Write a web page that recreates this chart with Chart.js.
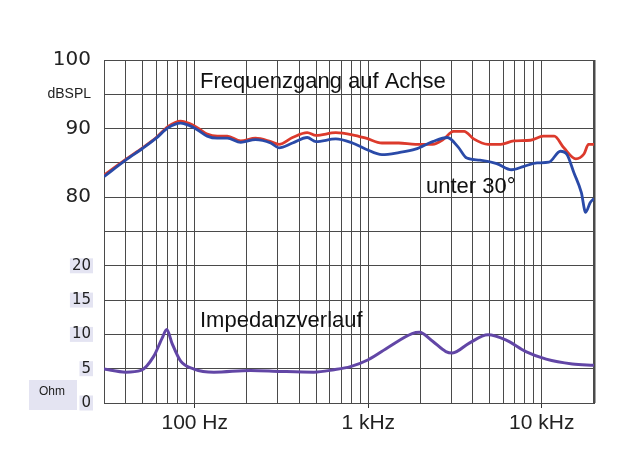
<!DOCTYPE html>
<html>
<head>
<meta charset="utf-8">
<script src="https://cdn.jsdelivr.net/npm/chart.js@4.4.1/dist/chart.umd.min.js"></script>
<style>
  html, body { margin: 0; padding: 0; background: #fff; }
  #wrap { width: 640px; height: 450px; }
</style>
</head>
<body>
<div id="wrap"><canvas id="chart" width="640" height="450"></canvas></div>
<script>
// Frequenzgang auf Achse (rot)
const axisFreq = [30, 40, 50, 60, 70, 83, 92, 104, 118, 135, 154, 184, 224, 274, 306, 366, 445, 500, 650, 810, 970, 1200, 1500, 1870, 2350, 2700, 3100, 3570, 4050, 4900, 5800, 6900, 8600, 10200, 11800, 13400, 15700, 17500, 18600, 20000];
const axisDb = [83.2, 85.5, 87.2, 88.7, 90.3, 91.1, 90.8, 90.1, 89.2, 88.9, 88.9, 88.2, 88.6, 88.1, 87.7, 88.7, 89.4, 89.0, 89.4, 89.1, 88.6, 87.9, 87.9, 87.7, 87.7, 88.4, 89.6, 89.6, 88.5, 87.7, 87.7, 88.2, 88.3, 88.9, 88.9, 87.2, 85.6, 86.3, 87.7, 87.7];

// unter 30 Grad (blau)
const offFreq = [30, 40, 50, 60, 70, 83, 92, 104, 118, 135, 154, 184, 224, 274, 306, 366, 445, 500, 650, 810, 970, 1200, 1500, 1870, 2350, 2860, 3300, 3700, 4400, 5500, 6700, 7900, 9400, 11000, 12800, 14000, 15300, 16900, 17900, 19000, 20000];
const offDb = [83.0, 85.4, 87.1, 88.6, 90.1, 90.8, 90.5, 89.8, 88.9, 88.6, 88.6, 88.0, 88.4, 87.9, 87.2, 87.9, 88.7, 88.1, 88.5, 87.9, 87.0, 86.2, 86.5, 87.0, 88.1, 88.7, 87.3, 85.7, 85.4, 84.9, 84.0, 84.5, 85.0, 85.1, 86.7, 86.2, 83.6, 80.7, 77.8, 79.2, 79.8];

// Impedanzverlauf (Ohm)
const impFreq = [30, 40, 49, 58, 65, 69, 74, 83, 99, 129, 210, 313, 487, 635, 790, 1000, 1320, 1790, 1970, 2350, 2800, 3060, 3800, 4900, 6200, 8100, 10600, 15000, 20000];
const impOhm = [4.95, 4.5, 4.75, 6.8, 9.5, 10.7, 8.7, 6.1, 4.95, 4.5, 4.75, 4.6, 4.5, 4.85, 5.3, 6.3, 8.2, 10.1, 10.3, 9.0, 7.5, 7.3, 8.7, 9.95, 9.2, 7.5, 6.4, 5.7, 5.5];

// dB werden um 50 verschoben auf die gemeinsame Achse gelegt
const dbOffset = 50;
const xGrid = [30, 40, 50, 60, 70, 80, 90, 100, 200, 300, 400, 500, 600, 700, 800, 900, 1000, 2000, 3000, 4000, 5000, 6000, 7000, 8000, 9000, 10000, 20000];
const xLabels = { 100: "100 Hz", 1000: "1 kHz", 10000: "10 kHz" };
const yLabels = { 50: "100", 45: "dBSPL", 40: "90", 30: "80", 20: "20", 15: "15", 10: "10", 5: "5", 0: "0" };

const toPoints = (xs, ys, off) => xs.map((f, i) => ({ x: f, y: ys[i] - off }));

const notes = {
  id: "notes",
  afterDraw(chart) {
    const c = chart.ctx;
    c.save();
    c.fillStyle = "#111";
    c.font = '22px "Liberation Sans", Arial, sans-serif';
    c.textBaseline = "alphabetic";
    c.fillText("Frequenzgang auf Achse", 200, 88);
    c.fillText("unter 30°", 426, 193);
    c.fillText("Impedanzverlauf", 200, 327);
    // Ohm Kästchen
    c.fillStyle = "#e4e4f2";
    c.fillRect(29, 380, 48, 30);
    c.fillStyle = "#222";
    c.font = '12px "Liberation Sans", Arial, sans-serif';
    c.textAlign = "center";
    c.textBaseline = "middle";
    c.fillText("Ohm", 52, 392);
    c.restore();
  }
};

const ctx = document.getElementById("chart").getContext("2d");
new Chart(ctx, {
  type: "line",
  data: {
    datasets: [
      {
        label: "unter 30°",
        data: toPoints(offFreq, offDb, dbOffset),
        borderColor: "#2a4aa8",
        borderWidth: 2.8,
        order: 0
      },
      {
        label: "auf Achse",
        data: toPoints(axisFreq, axisDb, dbOffset),
        borderColor: "#dc3a2c",
        borderWidth: 2.8,
        order: 1
      },
      {
        label: "Impedanz",
        data: toPoints(impFreq, impOhm, 0),
        borderColor: "#6246a6",
        borderWidth: 3,
        order: 2
      }
    ]
  },
  options: {
    responsive: false,
    animation: false,
    events: [],
    layout: { padding: { top: 60, right: 46, left: 0, bottom: 0 } },
    elements: {
      point: { radius: 0 },
      line: { cubicInterpolationMode: "monotone", fill: false }
    },
    plugins: { legend: { display: false }, tooltip: { enabled: false } },
    scales: {
      x: {
        type: "logarithmic",
        min: 30,
        max: 20000,
        afterBuildTicks: (scale) => { scale.ticks = xGrid.map((v) => ({ value: v })); },
        afterFit: (scale) => { scale.height = 47; },
        grid: {
          color: "#4a4a4a",
          lineWidth: (c) => (c.tick && c.tick.value === 20000 ? 2.5 : 1),
          tickLength: 5,
          tickColor: (c) => (c.tick && xLabels[c.tick.value] ? "#333" : "rgba(0,0,0,0)")
        },
        border: { color: "#4a4a4a" },
        ticks: {
          autoSkip: false,
          maxRotation: 0,
          padding: 3,
          color: "#222",
          font: { family: '"Liberation Sans", Arial, sans-serif', size: 21 },
          callback: (v) => xLabels[v] || ""
        }
      },
      y: {
        min: 0,
        max: 50,
        afterFit: (scale) => { scale.width = 104; },
        grid: { color: "#4a4a4a", drawTicks: false },
        border: { color: "#4a4a4a" },
        ticks: {
          stepSize: 5,
          padding: 13,
          color: "#222",
          font: (c) => {
            const v = c.tick ? c.tick.value : 0;
            if (v === 45) return { family: '"Liberation Sans", Arial, sans-serif', size: 14 };
            if (v >= 30) return { family: '"DejaVu Sans", sans-serif', size: 20 };
            return { family: '"DejaVu Sans", sans-serif', size: 15, lineHeight: 1 };
          },
          showLabelBackdrop: (c) => c.tick && c.tick.value <= 20,
          backdropColor: "#e4e4f2",
          backdropPadding: { x: 2, y: 0 },
          callback: (v) => (yLabels[v] !== undefined ? yLabels[v] : "")
        }
      }
    }
  },
  plugins: [notes]
});
</script>
</body>
</html>
